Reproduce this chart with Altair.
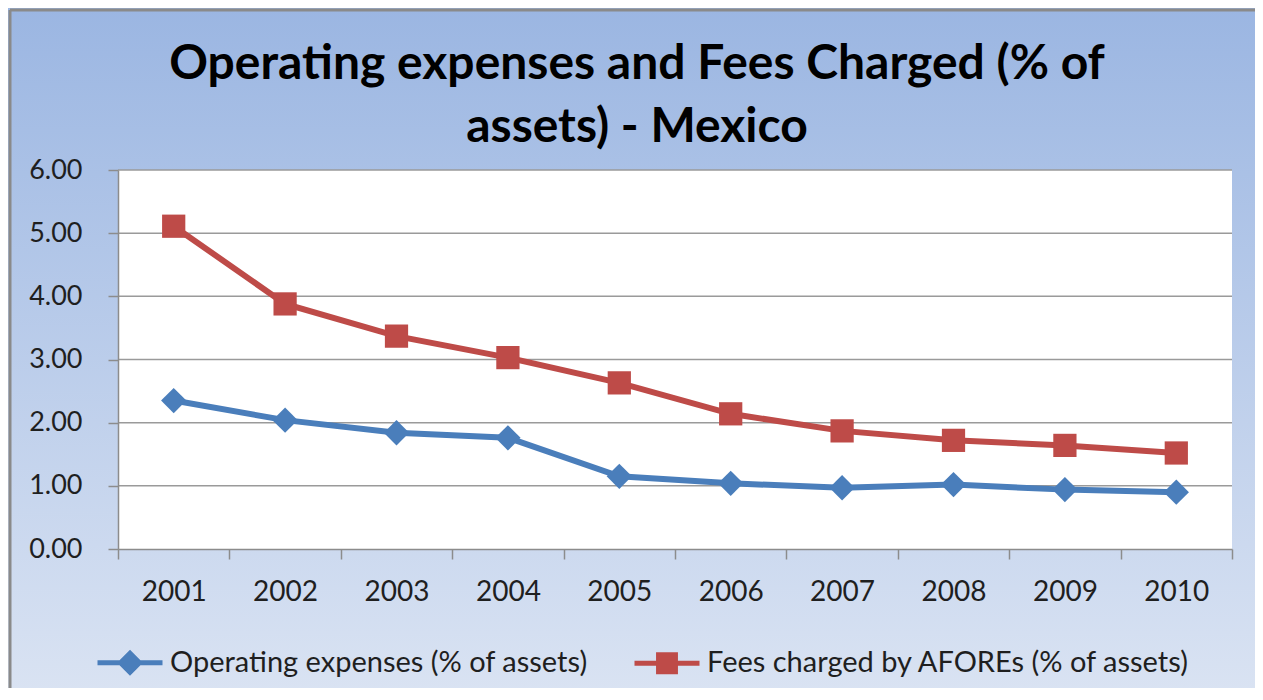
import altair as alt
import pandas as pd

# ---- data ----
YEARS = ["2001", "2002", "2003", "2004", "2005", "2006", "2007", "2008", "2009", "2010"]
OPEX = [2.35, 2.04, 1.84, 1.76, 1.15, 1.04, 0.97, 1.02, 0.94, 0.90]
FEES = [5.11, 3.88, 3.37, 3.03, 2.63, 2.14, 1.87, 1.72, 1.64, 1.52]
SERIES = ["Operating expenses (% of assets)", "Fees charged by AFOREs (% of assets)"]
COLORS = ["#4a7ebb", "#be4b48"]
Y_TICKS = [0, 1, 2, 3, 4, 5, 6]
GRID_VALUES = [1, 2, 3, 4, 5, 6]
TITLE_LINES = ["Operating expenses and Fees Charged (% of", "assets) - Mexico"]

W, H = 1114, 379
PAD = {"left": 110, "top": 162, "right": 23, "bottom": 139}
FONT = "Lato"

rows = []
for y, v in zip(YEARS, OPEX):
    rows.append({"year": y, "value": v, "series": SERIES[0]})
for y, v in zip(YEARS, FEES):
    rows.append({"year": y, "value": v, "series": SERIES[1]})
df = pd.DataFrame(rows)
grid_df = pd.DataFrame({"value": GRID_VALUES})
one = pd.DataFrame({"k": [0]})

xscale = alt.Scale(type="band", domain=YEARS, paddingInner=0, paddingOuter=0)
yscale = alt.Scale(domain=[0, 6], nice=False)

xaxis = alt.Axis(title=None, tickBand="extent", labelAngle=0, labelFont=FONT,
                 labelFontSize=28, labelColor="#1f1f1f", labelPadding=19,
                 tickSize=10, tickColor="#8c8c8c", tickWidth=1.5,
                 domainColor="#8c8c8c", domainWidth=1.5, grid=False, zindex=1)
yaxis = alt.Axis(title=None, values=Y_TICKS, format=".2f", labelFont=FONT,
                 labelFontSize=27, labelColor="#1f1f1f", labelPadding=26,
                 tickSize=10, tickColor="#8c8c8c", tickWidth=1.5,
                 domainColor="#8c8c8c", domainWidth=1.5, grid=False, zindex=1)

X = alt.X("year:O", scale=xscale, axis=xaxis, bandPosition=0.5)
Y = alt.Y("value:Q", scale=yscale, axis=yaxis)

gradient = alt.LinearGradient(
    gradient="linear",
    stops=[alt.GradientStop(color="#9bb6e2", offset=0),
           alt.GradientStop(color="#dbe4f3", offset=1)],
    x1=0, x2=0, y1=0, y2=1,
)

bg = alt.Chart(one).mark_rect(fill=gradient).encode(
    x=alt.value(-110), x2=alt.value(W + 300),
    y=alt.value(-162), y2=alt.value(H + 160),
)
border_left = alt.Chart(one).mark_rule(color="#8a8a8a", strokeWidth=3).encode(
    x=alt.value(-108), y=alt.value(-160), y2=alt.value(H + 300)
)
border_top = alt.Chart(one).mark_rule(color="#8a8a8a", strokeWidth=3).encode(
    y=alt.value(-160), x=alt.value(-108), x2=alt.value(W + 300)
)
plot_bg = alt.Chart(one).mark_rect(fill="white").encode(
    x=alt.value(0), x2=alt.value(W), y=alt.value(0), y2=alt.value(H)
)

grid = alt.Chart(grid_df).mark_rule(color="#9a9a9a", strokeWidth=1.5).encode(
    y=Y, x=alt.value(0), x2=alt.value(W)
)

line_blue = alt.Chart(df).transform_filter(alt.datum.series == SERIES[0]).mark_line(
    strokeWidth=6, color=COLORS[0]
).encode(x=X, y=Y)
line_red = alt.Chart(df).transform_filter(alt.datum.series == SERIES[1]).mark_line(
    strokeWidth=6, color=COLORS[1]
).encode(x=X, y=Y)

pts_blue = alt.Chart(df).transform_filter(alt.datum.series == SERIES[0]).mark_point(
    filled=True, shape="diamond", size=640, color=COLORS[0], opacity=1
).encode(x=X, y=Y)
pts_red = alt.Chart(df).transform_filter(alt.datum.series == SERIES[1]).mark_point(
    filled=True, shape="square", size=540, color=COLORS[1], opacity=1
).encode(x=X, y=Y)


def diamond(r):
    return f"M0,-{r}L{r},0L0,{r}L-{r},0Z"


def square(r):
    return f"M-{r},-{r}L{r},-{r}L{r},{r}L-{r},{r}Z"


LEG_PATHS = [
    "M-1,0L1,0" + "".join(diamond(r) for r in (0.29, 0.21, 0.13, 0.05)),
    "M-1,0L1,0" + "".join(square(r) for r in (0.26, 0.18, 0.10, 0.02)),
]
leg = alt.Legend(
    title=None, orient="none", legendX=-23, legendY=457.5, direction="horizontal",
    symbolSize=4225, symbolStrokeWidth=5, symbolOpacity=1,
    labelFont=FONT, labelFontSize=29, labelColor="#1f1f1f", labelOffset=5, labelLimit=0,
    columnPadding=36, padding=0,
)
# legend-only layer (no rows drawn); legend entries come from the explicit scale domains
legend_layer = alt.Chart(df).transform_filter("datum.value < 0").mark_point(
    filled=False, strokeWidth=5, opacity=1
).encode(
    x=X, y=Y,
    color=alt.Color("series:N", scale=alt.Scale(domain=SERIES, range=COLORS), legend=leg),
    shape=alt.Shape("series:N", scale=alt.Scale(domain=SERIES, range=LEG_PATHS), legend=leg),
)

title_df = pd.DataFrame({"line": TITLE_LINES, "row": [0, 1]})
t1 = alt.Chart(title_df).transform_filter(alt.datum.row == 0).mark_text(
    font=FONT, fontSize=48, fontWeight="bold", color="#000000", align="center", baseline="middle"
).encode(text="line:N", x=alt.value(519), y=alt.value(-105))
t2 = alt.Chart(title_df).transform_filter(alt.datum.row == 1).mark_text(
    font=FONT, fontSize=48, fontWeight="bold", color="#000000", align="center", baseline="middle"
).encode(text="line:N", x=alt.value(519), y=alt.value(-42))

chart = alt.layer(
    bg, border_left, border_top, plot_bg, grid, line_blue, line_red, pts_blue, pts_red,
    legend_layer, t1, t2
).properties(
    width=W, height=H,
    autosize=alt.AutoSizeParams(type="none"),
    padding=PAD,
).configure_view(stroke=None)

chart.save("out.html", embed_options={"renderer": "svg", "actions": False})
